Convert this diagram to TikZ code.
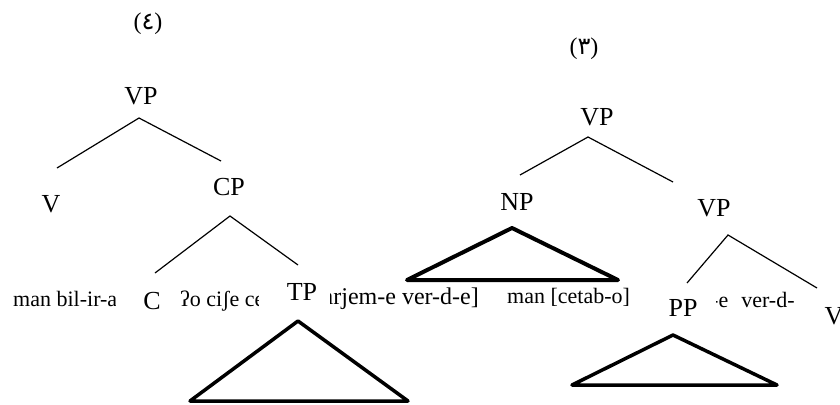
\documentclass[tikz,border=0pt]{standalone}
\usepackage{fontspec}
\setmainfont{Liberation Serif}
\newfontfamily\arabicfont[Script=Arabic]{DejaVu Sans}
\tikzset{
cat/.style={inner sep=0pt, font=\fontsize{26}{30}\selectfont}, % category labels of the trees
word/.style={inner sep=0pt, anchor=base west, font=\fontsize{22}{26}\selectfont}, % words under the trees
num/.style={inner sep=0pt, font=\fontsize{24}{28}\selectfont}, % example numbers
branch/.style={line width=1.2pt}, % thin tree edges
roof/.style={line width=3.5pt, line join=round, line cap=round}, % triangles
}

\begin{document}
\begin{tikzpicture}[x=1pt, y=-1pt]
    \useasboundingbox (0,0) rectangle (840,404);

    % tree (4)
    \node[num] (numA) at (148,24) {({\arabicfont ٤})};
    \node[cat] (VPa) at (141,96) {VP};
    \node[cat] (Va) at (51,204) {V};
    \node[cat] (CPa) at (229,187) {CP};
    \node[cat] (Ca) at (152,301) {C};
    \node[cat] (TPa) at (302,292) {TP};

    \coordinate (VPa-top) at (139,118);
    \coordinate (VPa-l) at (57,168);
    \coordinate (VPa-r) at (221,161);
    \coordinate (CPa-top) at (230,216);
    \coordinate (CPa-l) at (155,273);
    \coordinate (CPa-r) at (298,265);
    \coordinate (TPa-top) at (298,321);
    \coordinate (TPa-l) at (190,401);
    \coordinate (TPa-r) at (408,401);

    \draw[branch] (VPa-l) -- (VPa-top) -- (VPa-r);
    \draw[branch] (CPa-l) -- (CPa-top) -- (CPa-r);
    \draw[roof] (TPa-top) -- (TPa-l) -- (TPa-r) -- cycle;

    \begin{scope}
        \clip (0,280) rectangle (115,330);
        \node[word] (wA) at (13,306) {man bil-ir-am};
    \end{scope}
    \begin{scope}
        \clip (176,280) rectangle (258,330);
        \node[word] (wB) at (180,306) {ʔo ciʃe cetab-o};
    \end{scope}
    \begin{scope}
        \clip (330,280) rectangle (500,330);
        \node[word, anchor=base east, font=\fontsize{24}{28}\selectfont] (wC) at (479,304) {tarjem-e ver-d-e]};
    \end{scope}

    % tree (3)
    \node[num] (numB) at (584,49) {({\arabicfont ٣})};
    \node[cat] (VPb) at (597,117) {VP};
    \node[cat] (NPb) at (517,202) {NP};
    \node[cat] (VPc) at (714,208) {VP};
    \node[cat] (PPc) at (683,308) {PP};
    \node[cat] (Vc) at (834,316) {V};

    \coordinate (VPb-top) at (588,137);
    \coordinate (VPb-l) at (520,175);
    \coordinate (VPb-r) at (673,182);
    \coordinate (NPb-top) at (512,228);
    \coordinate (NPb-l) at (407,280);
    \coordinate (NPb-r) at (618,280);
    \coordinate (VPc-top) at (728,235);
    \coordinate (VPc-l) at (687,283);
    \coordinate (VPc-r) at (817,288);
    \coordinate (PPc-top) at (673,335);
    \coordinate (PPc-l) at (572,385);
    \coordinate (PPc-r) at (777,385);

    \draw[branch] (VPb-l) -- (VPb-top) -- (VPb-r);
    \draw[roof, line width=4pt] (NPb-top) -- (NPb-l) -- (NPb-r) -- cycle;
    \draw[branch] (VPc-l) -- (VPc-top) -- (VPc-r);
    \draw[roof] (PPc-top) -- (PPc-l) -- (PPc-r) -- cycle;

    \node[word] (wD) at (507,303) {man [cetab-o]};
    \begin{scope}
        \clip (716,280) rectangle (794,330);
        \node[word] (wE) at (711,307) {-e\hspace{13pt}ver-d-e};
    \end{scope}
\end{tikzpicture}
\end{document}
